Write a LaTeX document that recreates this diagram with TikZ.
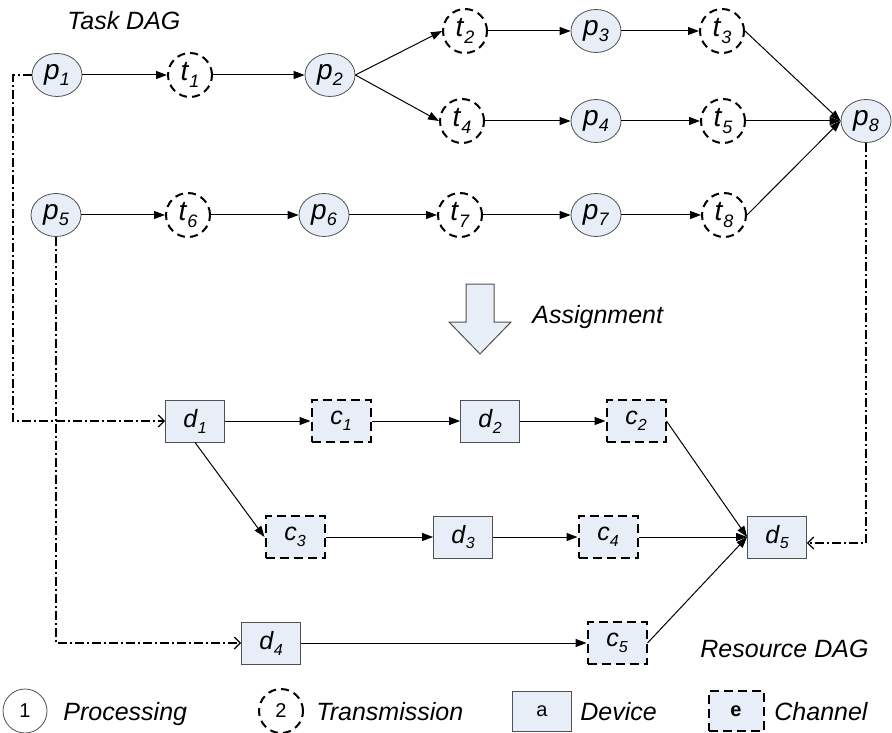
\documentclass[tikz,border=0pt]{standalone}
\usepackage{fontspec}
\setmainfont{Liberation Sans}
\usetikzlibrary{arrows.meta,shapes.geometric}
\definecolor{nodefill}{HTML}{E8EEF7}
\definecolor{nodeline}{HTML}{505050}
\def\subsz{8}
\newcommand{\lbl}[2]{\textit{#1}\raisebox{-0.45ex}{\fontsize{\subsz}{\subsz}\selectfont\textit{#2}}}

\begin{document}
\begin{tikzpicture}[x=0.5pt, y=-0.5pt,
    every node/.style={font=\fontsize{12.5}{14}\selectfont},
    proc/.style={ellipse, draw=nodeline, fill=nodefill, minimum width=25pt, minimum height=21.5pt, inner sep=0pt,
        font=\fontsize{14}{16}\selectfont\def\subsz{9}},
    trans/.style={circle, draw, fill=white, line width=1pt, dash pattern=on 4pt off 2.6pt, minimum size=22pt, inner sep=0pt,
        font=\fontsize{14}{16}\selectfont\def\subsz{9}},
    dev/.style={rectangle, draw=nodeline, fill=nodefill, minimum width=29.5pt, minimum height=21pt, inner sep=0pt},
    chan/.style={dev, draw=black, line width=1pt, dash pattern=on 4.5pt off 2.5pt},
    flow/.style={-{Triangle[length=5.5pt,width=4pt]}, line width=0.5pt},
    map/.style={-{Straight Barb[length=3pt,width=6pt,line width=0.6pt]}, line width=1pt, dash pattern=on 4.5pt off 1.5pt on 1pt off 1.5pt},
    txt/.style={font=\fontsize{12.5}{15}\selectfont\itshape, anchor=base west, inner sep=0pt}]
    \useasboundingbox (0,0) rectangle (892,732);

    \node[txt] (taskdag) at (67,30) {Task DAG};
    \node[proc]  (p1) at (57,75)   {\lbl{p}{1}};
    \node[trans] (t1) at (190,75)  {\lbl{t}{1}};
    \node[proc]  (p2) at (330,75)  {\lbl{p}{2}};
    \node[trans] (t2) at (465,31)  {\lbl{t}{2}};
    \node[proc]  (p3) at (596,31)  {\lbl{p}{3}};
    \node[trans] (t3) at (722,31)  {\lbl{t}{3}};
    \node[trans] (t4) at (462,121) {\lbl{t}{4}};
    \node[proc]  (p4) at (596,121) {\lbl{p}{4}};
    \node[trans] (t5) at (723,121) {\lbl{t}{5}};
    \node[proc]  (p8) at (866,121) {\lbl{p}{8}};
    \node[proc]  (p5) at (56,215)  {\lbl{p}{5}};
    \node[trans] (t6) at (188,215) {\lbl{t}{6}};
    \node[proc]  (p6) at (324,215) {\lbl{p}{6}};
    \node[trans] (t7) at (460,215) {\lbl{t}{7}};
    \node[proc]  (p7) at (596,215) {\lbl{p}{7}};
    \node[trans] (t8) at (724,215) {\lbl{t}{8}};

    \path[flow]
        (p1) edge (t1)
        (t1) edge (p2)
        (p2.east) edge (t2.west) edge (t4.west)
        (t2) edge (p3)
        (p3) edge (t3)
        (t4) edge (p4)
        (p4) edge (t5)
        (t3.east) edge (p8.west)
        (t5) edge (p8.west)
        (p5) edge (t6)
        (t6) edge (p6)
        (p6) edge (t7)
        (t7) edge (p7)
        (p7) edge (t8)
        (t8.east) edge (p8.west);

    \draw[draw=nodeline, fill=nodefill, line width=0.5pt]
        (466,284) -- (494,284) -- (494,322) -- (511,322) -- (480,354) -- (449,322) -- (466,322) -- cycle;
    \node[txt] (assign) at (532,323) {Assignment};

    \node[dev]  (d1) at (195,421) {\lbl{d}{1}};
    \node[chan] (c1) at (341,421) {\lbl{c}{1}};
    \node[dev]  (d2) at (490,421) {\lbl{d}{2}};
    \node[chan] (c2) at (636,421) {\lbl{c}{2}};
    \node[chan] (c3) at (295,537) {\lbl{c}{3}};
    \node[dev]  (d3) at (463,537) {\lbl{d}{3}};
    \node[chan] (c4) at (608,537) {\lbl{c}{4}};
    \node[dev]  (d5) at (777,537) {\lbl{d}{5}};
    \node[dev]  (d4) at (271,643) {\lbl{d}{4}};
    \node[chan] (c5) at (617,643) {\lbl{c}{5}};
    \node[txt] (resdag) at (700,657) {Resource DAG};

    \path[flow]
        (d1) edge (c1)
        (c1) edge (d2)
        (d2) edge (c2)
        (c2.east) edge (d5.west)
        (d1.south) edge (c3.west)
        (c3) edge (d3)
        (d3) edge (c4)
        (c4) edge (d5.west)
        (d4) edge (c5)
        (c5.east) edge (d5.west);

    \coordinate (k1) at (13,421);
    \draw[map] (p1.west) -| (k1) -- (d1.west);
    \draw[map] (p5.south) |- (d4.west);
    \draw[map] (p8.south) |- ([yshift=-3pt]d5.east);

    \node[circle, draw=nodeline, minimum size=22pt, inner sep=0pt, font=\fontsize{10}{12}\selectfont] (lg1) at (25,711) {1};
    \node[txt] (lgt1) at (63,720) {Processing};
    \node[trans, font=\fontsize{10}{12}\selectfont] (lg2) at (281,711) {2};
    \node[txt] (lgt2) at (316,720) {Transmission};
    \node[dev, minimum height=20pt, font=\fontsize{10}{12}\selectfont] (lg3) at (542,711) {a};
    \node[txt] (lgt3) at (580,720) {Device};
    \node[chan, minimum width=27.5pt, minimum height=20pt, font=\fontsize{10}{12}\selectfont\bfseries] (lg4) at (736,711) {e};
    \node[txt] (lgt4) at (774,720) {Channel};
\end{tikzpicture}
\end{document}
